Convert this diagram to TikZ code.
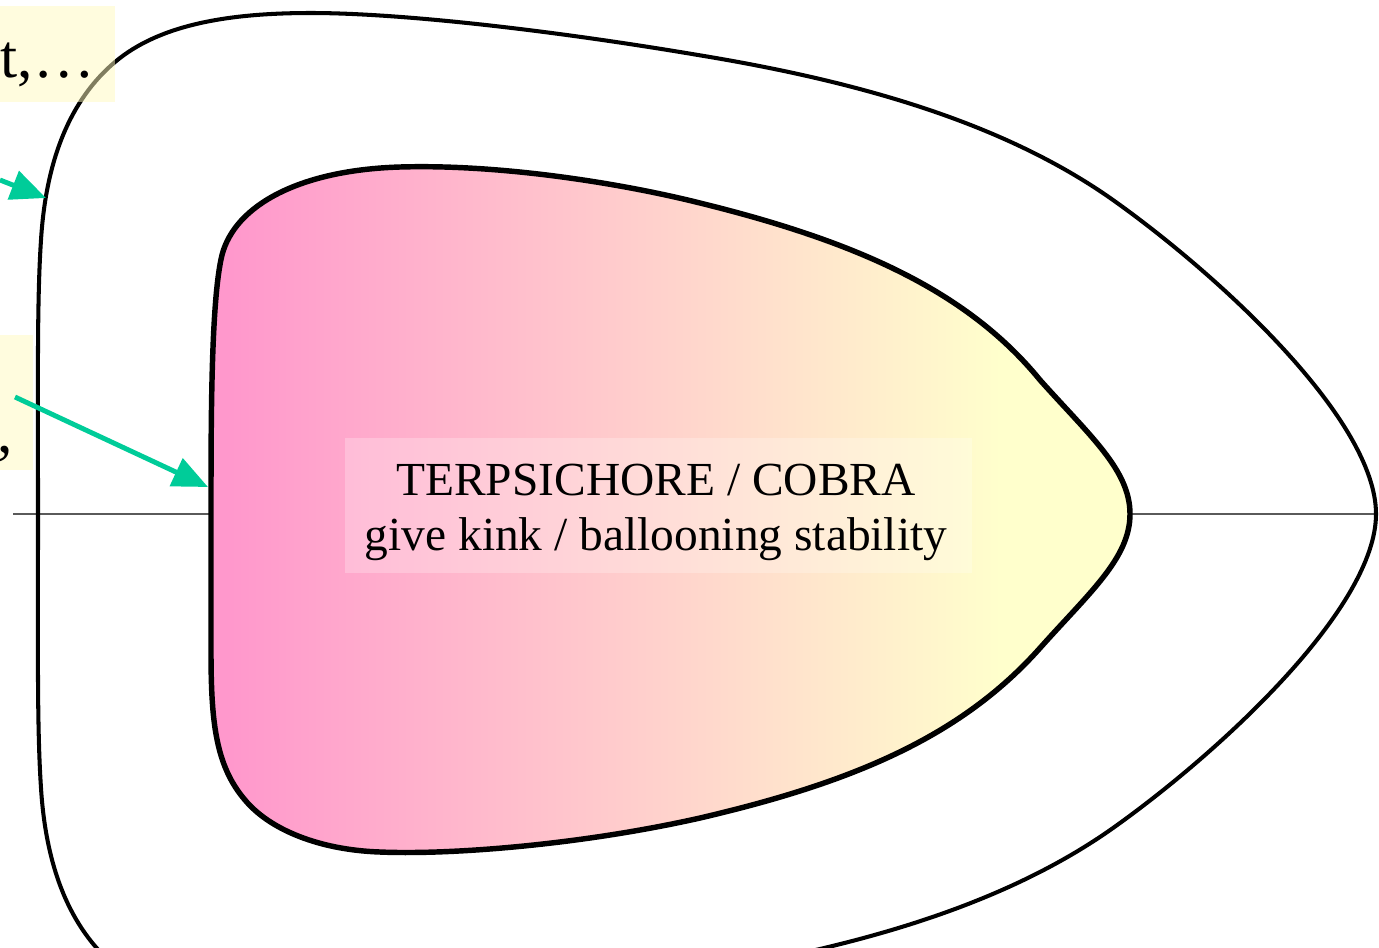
\documentclass[tikz,border=0pt]{standalone}
\usepackage{fontspec}
\setmainfont{Liberation Serif}
\usetikzlibrary{arrows.meta}
\definecolor{arrowgreen}{RGB}{0,204,153}
\definecolor{pinkL}{RGB}{255,152,204}
\definecolor{yellowR}{RGB}{255,255,204}
\definecolor{boxyellow}{RGB}{255,250,190}
\definecolor{axisgrey}{RGB}{90,90,90}
\pgfdeclarehorizontalshading{plasma}{100bp}{color(0bp)=(pinkL); color(26bp)=(pinkL); color(68bp)=(yellowR); color(100bp)=(yellowR)}
\begin{document}
\begin{tikzpicture}[x=0.02cm,y=-0.02cm,
  outerline/.style={line width=2.3pt, line join=round},
  innerline/.style={line width=3.1pt, line join=round},
  pointer/.style={draw=arrowgreen, line width=2.8pt, -{Triangle[length=20pt,width=17pt]}},
  notebox/.style={fill=boxyellow, fill opacity=0.5, inner sep=0pt, draw=none},
  sidetext/.style={font=\fontsize{35}{40}\selectfont, inner sep=0pt},
  labeltext/.style={font=\fontsize{27}{31.2}\selectfont, align=center, inner sep=0pt},
  labelbox/.style={fill=white, fill opacity=0.25, inner sep=0pt, draw=none},
]
\useasboundingbox (0,0) rectangle (1379,947);
\clip (0,0) rectangle (1379,947);

% axis line
\coordinate (axL) at (13,514);
\coordinate (axR) at (1376,514);
\draw[axisgrey, line width=0.9pt] (axL) -- (axR);

% outer boundary
\draw[outerline] (38,514)
  .. controls (38,380) and (37,300) .. (41,240)
  .. controls (46,160) and (70,100) .. (115,62)
  .. controls (160,24) and (230,13) .. (311,13)
  .. controls (400,13) and (550,30) .. (698,55)
  .. controls (850,80) and (1000,120) .. (1113,200)
  .. controls (1220,276) and (1376,420) .. (1376,514)
  .. controls (1376,608) and (1220,752) .. (1113,828)
  .. controls (1000,908) and (850,948) .. (698,973)
  .. controls (550,998) and (400,1015) .. (311,1015)
  .. controls (230,1015) and (160,1004) .. (115,966)
  .. controls (70,928) and (46,868) .. (41,788)
  .. controls (37,728) and (38,648) .. (38,514) -- cycle;

% inner shaded region
\draw[innerline, shade, shading=plasma] (211,514)
  .. controls (211,420) and (211,300) .. (222,255)
  .. controls (235,205) and (300,170) .. (400,167)
  .. controls (500,164) and (620,183) .. (700,203)
  .. controls (850,240) and (965,288) .. (1040,380)
  .. controls (1090,436) and (1130,470) .. (1130,514)
  .. controls (1130,558) and (1090,592) .. (1040,648)
  .. controls (960,738) and (850,783) .. (700,818)
  .. controls (580,845) and (450,855) .. (380,852)
  .. controls (320,850) and (270,830) .. (245,800)
  .. controls (215,765) and (211,720) .. (211,650)
  -- cycle;

% central label
\node[labelbox, minimum width=12.54cm, minimum height=2.7cm] (lblbox) at (658.5,505.5) {};
\node[labeltext] (lbl) at (656,512) {TERPSICHORE / COBRA\\give kink / ballooning stability};

% left note boxes (cut by the frame)
\node[notebox, minimum width=2.7cm, minimum height=1.92cm] (box1) at (47.5,54) {};
\node[sidetext, anchor=base east] (txt1) at (95,77) {t,…};
\node[notebox, minimum width=1.06cm, minimum height=2.7cm] (box2) at (6.5,402.5) {};
\node[sidetext, anchor=base east] (txt2) at (13,452) {,};

% pointers
\coordinate (a1s) at (0,180);
\coordinate (a1e) at (46,198);
\coordinate (a2s) at (15,397);
\coordinate (a2e) at (208,487);
\draw[pointer] (a1s) -- (a1e);
\draw[pointer] (a2s) -- (a2e);
\end{tikzpicture}
\end{document}
